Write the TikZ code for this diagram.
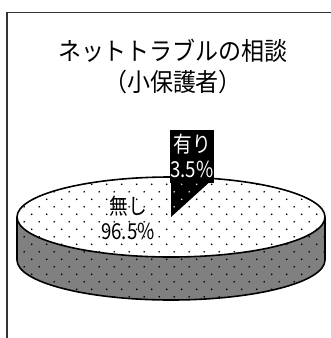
\documentclass[tikz,border=0pt]{standalone}
\usepackage{fontspec}
\usepackage{graphicx}
\newfontfamily\jpfont{Noto Sans CJK JP}
\definecolor{sidegray}{HTML}{808080}
\definecolor{framegray}{HTML}{333333}
\newcommand{\sq}[1]{\scalebox{0.85}[1]{#1}}
\newcommand{\sqt}[1]{\scalebox{0.92}[1]{#1}}
% staggered dot lattice, 7.5pt apart
\newcommand{\dotgrid}[1]{%
  \foreach \x in {16.7,31.7,...,331} \foreach \y in {-169.3,-184.3,...,-310} \fill[#1] (\x,\y) circle (0.9);
  \foreach \x in {9.2,24.2,...,331} \foreach \y in {-176.8,-191.8,...,-310} \fill[#1] (\x,\y) circle (0.9);}

\begin{document}
\begin{tikzpicture}[x=1pt,y=1pt,
    title/.style={font=\jpfont\fontsize{25}{29}\selectfont},
    slicelabel/.style={font=\jpfont\fontsize{22}{25}\selectfont, align=center, inner sep=0pt},
    rim/.style={line width=1.6pt, black}]
    \useasboundingbox (0,0) rectangle (331,-338);

    % Frame (left and top only)
    \draw[line width=1.2pt, framegray] (7,-338) -- (7,-12.5) -- (331,-12.5);

    % Title
    \node[title] (t1) at (173,-51) {\sqt{ネットトラブルの相談}};
    \node[title] (t2) at (173,-82) {\sqt{（小保護者）}};

    % Centres of top and bottom faces
    \coordinate (c) at (171,-217);
    \coordinate (cb) at (171,-260);

    % Side of the disc
    \fill[sidegray] (17,-217) -- (17,-260) arc[start angle=180, end angle=360, x radius=154, y radius=40]
        -- (325,-217) arc[start angle=0, end angle=-180, x radius=154, y radius=40] -- cycle;
    \begin{scope}
        \clip (17,-217) -- (17,-260) arc[start angle=180, end angle=360, x radius=154, y radius=40]
            -- (325,-217) arc[start angle=0, end angle=-180, x radius=154, y radius=40] -- cycle;
        \dotgrid{black}
    \end{scope}
    \draw[rim] (17,-217) -- (17,-260) arc[start angle=180, end angle=360, x radius=154, y radius=40] -- (325,-217);

    % Top face
    \fill[white] (c) ellipse[x radius=154, y radius=40];
    \begin{scope}
        \clip (c) ellipse[x radius=154, y radius=40];
        \dotgrid{black}
    \end{scope}

    % Slice 3.5%
    \fill[black] (c) -- (171,-177) arc[start angle=90, end angle=74, x radius=154, y radius=40] -- cycle;
    \begin{scope}
        \clip (c) -- (171,-177) arc[start angle=90, end angle=74, x radius=154, y radius=40] -- cycle;
        \dotgrid{white!85!black}
    \end{scope}
    \draw[rim] (c) ellipse[x radius=154, y radius=40];

    % Labels
    \node[slicelabel, fill=black, text=white, minimum width=41pt, minimum height=53pt] (yes) at (192,-156)
        {\sq{有り}\\\sq{3.5\%}};
    \node[slicelabel] (no) at (128,-218) {\sq{無し}\\\sq{96.5\%}};

\end{tikzpicture}
\end{document}
